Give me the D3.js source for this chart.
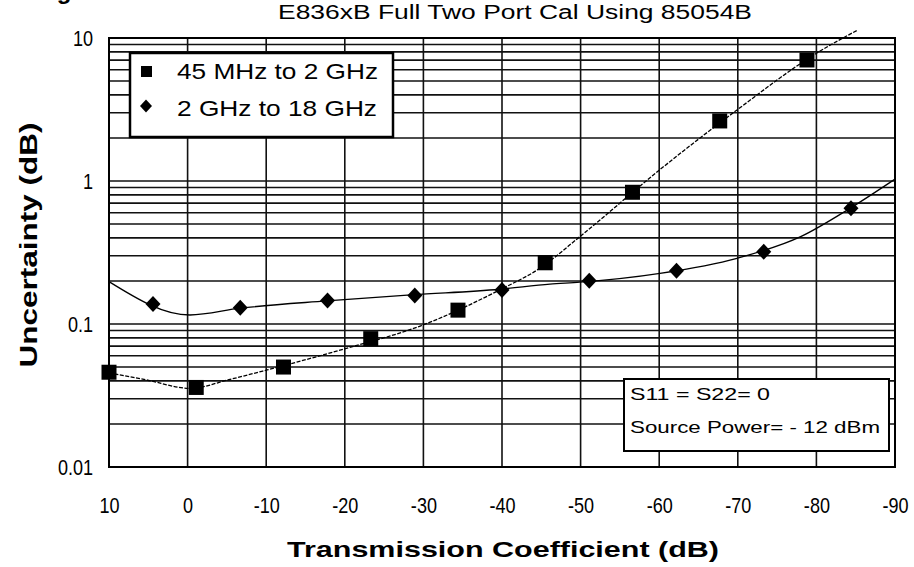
<!DOCTYPE html>
<html>
<head>
<meta charset="utf-8">
<script src="https://cdn.jsdelivr.net/npm/d3@7"></script>
<style>
  html, body { margin: 0; padding: 0; background: #fff; }
  svg { display: block; }
  text { font-family: "Liberation Sans", Arial, sans-serif; fill: #000; }
  .bold { font-weight: bold; }
</style>
</head>
<body>
<svg id="chart" width="914" height="567"></svg>
<script>
// ---- data ----
const title = "E836xB Full Two Port Cal Using 85054B";
const xLabel = "Transmission Coefficient (dB)";
const yLabel = "Uncertainty (dB)";
const seriesNames = ["45 MHz to 2 GHz", "2 GHz to 18 GHz"];
const noteLines = ["S11 = S22= 0", "Source Power= - 12 dBm"];

const xTicks = [10, 0, -10, -20, -30, -40, -50, -60, -70, -80, -90];
const yTickValues = [0.01, 0.1, 1, 10];
const yTickLabels = ["0.01", "0.1", "1", "10"];

// markers, series 1 (squares)
const lowX = [10, -1.1, -12.2, -23.3, -34.4, -45.5, -56.6, -67.7, -78.8];
const lowY = [0.046, 0.036, 0.050, 0.079, 0.125, 0.268, 0.834, 2.63, 7.02];
// markers, series 2 (diamonds)
const highX = [4.4, -6.7, -17.8, -28.9, -40.0, -51.1, -62.2, -73.3, -84.4];
const highY = [0.138, 0.130, 0.146, 0.158, 0.173, 0.201, 0.236, 0.320, 0.645];

// fitted curves
const lowFitX = [10, 5.2, -0.3, -5.4, -10.1, -20.2, -29.6, -39.7, -44.8, -49.9, -60, -69.9, -80, -85.3];
const lowFitY = [0.0456, 0.0406, 0.0355, 0.041, 0.0477, 0.0676, 0.0968, 0.173, 0.245, 0.408, 1.19, 3.14, 7.82, 11.4];
const highFitX = [10, -0.3, -6.7, -17.7, -28.7, -39.7, -46.1, -49.9, -60.1, -69.9, -78, -84.3, -90];
const highFitY = [0.198, 0.1156, 0.129, 0.145, 0.160, 0.175, 0.190, 0.196, 0.226, 0.288, 0.408, 0.645, 1.03];

// ---- layout ----
const svg = d3.select("#chart");
const L = 109, R = 895, T = 38, B = 467;

const x = d3.scaleLinear().domain([10, -90]).range([L, R]);
const y = d3.scaleLog().domain([0.01, 10]).range([B, T]);

function condense(sel, k) {
  sel.each(function () {
    const w = this.getComputedTextLength();
    d3.select(this).attr("textLength", w * k).attr("lengthAdjust", "spacingAndGlyphs");
  });
}

// grid
const grid = svg.append("g").attr("stroke", "#111").attr("stroke-width", 1.6);
grid.selectAll("line.h").data(y.ticks()).join("line")
  .attr("x1", L).attr("x2", R)
  .attr("y1", d => y(d)).attr("y2", d => y(d));
grid.selectAll("line.v").data(xTicks).join("line")
  .attr("y1", T).attr("y2", B)
  .attr("x1", d => x(d)).attr("x2", d => x(d));
svg.append("rect").attr("x", L).attr("y", T).attr("width", R - L).attr("height", B - T)
  .attr("fill", "none").attr("stroke", "#000").attr("stroke-width", 2);

// axes labels via d3 axes (no domain / tick lines)
const xAxis = svg.append("g").attr("transform", `translate(0,${B})`)
  .call(d3.axisBottom(x).tickValues(xTicks).tickSize(0).tickPadding(30)
    .tickFormat(d => String(d)));
xAxis.select(".domain").remove();
xAxis.selectAll("text").attr("font-size", 22).attr("font-family", null).attr("fill", "#000");
condense(xAxis.selectAll("text"), 0.82);

const yAxis = svg.append("g").attr("transform", `translate(${L},0)`)
  .call(d3.axisLeft(y).tickValues(yTickValues).tickSize(0).tickPadding(16)
    .tickFormat((d, i) => yTickLabels[i]));
yAxis.select(".domain").remove();
yAxis.selectAll("text").attr("font-size", 22).attr("font-family", null).attr("fill", "#000");
condense(yAxis.selectAll("text"), 0.82);

// title
svg.append("text").attr("x", 515).attr("y", 19).attr("text-anchor", "middle")
  .attr("font-size", 20).attr("textLength", 474).attr("lengthAdjust", "spacingAndGlyphs")
  .text(title);
// clipped fragment at top-left (as in the reference)
svg.append("text").attr("class", "bold").attr("x", 64).attr("y", -1).attr("text-anchor", "middle")
  .attr("font-size", 24).text("g");

// axis titles
svg.append("text").attr("class", "bold").attr("x", 503).attr("y", 557).attr("text-anchor", "middle")
  .attr("font-size", 22).attr("textLength", 432).attr("lengthAdjust", "spacingAndGlyphs").text(xLabel);
svg.append("text").attr("class", "bold")
  .attr("transform", "translate(37,245) rotate(-90)").attr("text-anchor", "middle")
  .attr("font-size", 23).attr("textLength", 245).attr("lengthAdjust", "spacingAndGlyphs").text(yLabel);

// fitted curves
const line = d3.line().x(d => x(d[0])).y(d => y(d[1])).curve(d3.curveMonotoneX);
svg.append("path").datum(d3.zip(lowFitX, lowFitY)).attr("d", line)
  .attr("fill", "none").attr("stroke", "#000").attr("stroke-width", 1.3).attr("stroke-dasharray", "4,1.5");
svg.append("path").datum(d3.zip(highFitX, highFitY)).attr("d", line)
  .attr("fill", "none").attr("stroke", "#000").attr("stroke-width", 1.3);

// markers
const sq = 15;
svg.append("g").selectAll("rect").data(d3.zip(lowX, lowY)).join("rect")
  .attr("x", d => x(d[0]) - sq / 2).attr("y", d => y(d[1]) - sq / 2)
  .attr("width", sq).attr("height", sq).attr("fill", "#000");
const diamond = (cx, cy, w, h) => `M${cx},${cy - h / 2}L${cx + w / 2},${cy}L${cx},${cy + h / 2}L${cx - w / 2},${cy}Z`;
svg.append("g").selectAll("path").data(d3.zip(highX, highY)).join("path")
  .attr("d", d => diamond(x(d[0]), y(d[1]), 15, 16)).attr("fill", "#000");

// legend
const lg = svg.append("g");
lg.append("rect").attr("x", 130).attr("y", 53).attr("width", 263).attr("height", 84)
  .attr("fill", "#fff").attr("stroke", "#000").attr("stroke-width", 2.5);
lg.append("rect").attr("x", 141).attr("y", 66).attr("width", 11).attr("height", 11).attr("fill", "#000");
lg.append("path").attr("d", diamond(146, 106, 12, 13)).attr("fill", "#000");
lg.selectAll("text.s").data(seriesNames).join("text")
  .attr("x", 177).attr("y", (d, i) => 79 + i * 37).attr("font-size", 22)
  .attr("textLength", (d, i) => i === 0 ? 201 : 200).attr("lengthAdjust", "spacingAndGlyphs")
  .text(d => d);

// note box
const nb = svg.append("g");
nb.append("rect").attr("x", 624).attr("y", 379).attr("width", 265).attr("height", 72)
  .attr("fill", "#fff").attr("stroke", "#000").attr("stroke-width", 2);
nb.selectAll("text").data(noteLines).join("text")
  .attr("x", 630).attr("y", (d, i) => 400 + i * 33).attr("font-size", 17)
  .attr("textLength", (d, i) => i === 0 ? 140 : 250).attr("lengthAdjust", "spacingAndGlyphs")
  .text(d => d);
</script>
</body>
</html>
